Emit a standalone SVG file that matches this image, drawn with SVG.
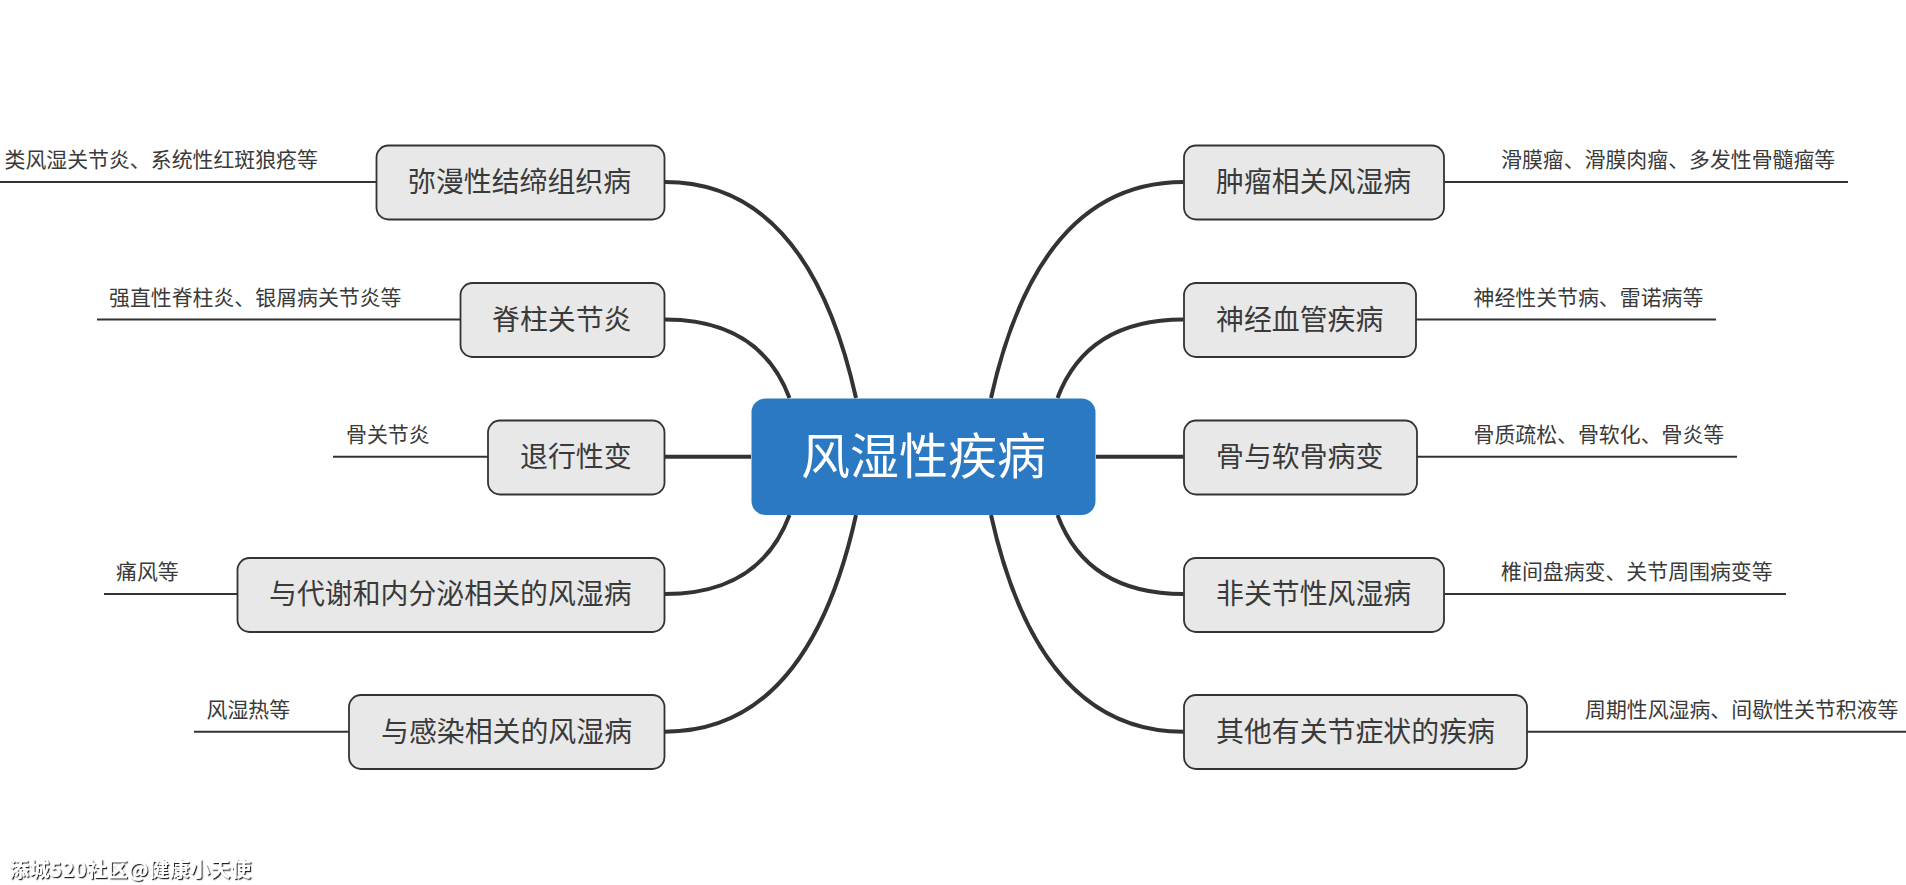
<svg xmlns="http://www.w3.org/2000/svg" width="1906" height="885" viewBox="0 0 1906 885">
<style>
text{font-family:"Noto Sans CJK SC","Microsoft YaHei",sans-serif}
.box{fill:#e8e8e8;stroke:#333;stroke-width:1.8}
.n{font-size:27.9px;fill:#3a3a3a}
.l{font-size:20.9px;fill:#3a3a3a}
.c{fill:none;stroke:#333;stroke-width:4}
.h{fill:none;stroke:#333;stroke-width:2}
</style>
<defs><filter id="sh" x="-5%" y="-20%" width="110%" height="140%"><feDropShadow dx="1.2" dy="1.2" stdDeviation="0.5" flood-color="#222"/></filter></defs>
<rect width="1906" height="885" fill="#fff"/>
<g id="connectors">
<path class="c" d="M665 182Q808 182 856 398"/>
<path class="c" d="M665 319.5Q760 319.5 789.5 398"/>
<path class="c" d="M665 456.7H751"/>
<path class="c" d="M665 594Q760 594 789.5 515"/>
<path class="c" d="M665 731.7Q808 731.7 856 515"/>
<path class="c" d="M1183.5 182Q1039 182 991 398"/>
<path class="c" d="M1183.5 319.5Q1087 319.5 1057.5 398"/>
<path class="c" d="M1096 456.7H1183.5"/>
<path class="c" d="M1183.5 594Q1087 594 1057.5 515"/>
<path class="c" d="M1183.5 731.7Q1039 731.7 991 515"/>
<path class="h" d="M0 182H376"/>
<path class="h" d="M97 319.5H460"/>
<path class="h" d="M333 456.7H488"/>
<path class="h" d="M104 594H237"/>
<path class="h" d="M194 731.7H349"/>
<path class="h" d="M1444 182H1848"/>
<path class="h" d="M1416 319.5H1716"/>
<path class="h" d="M1417 456.7H1737"/>
<path class="h" d="M1444 594H1786"/>
<path class="h" d="M1527 731.7H1906"/>
</g>
<g id="center"><rect x="751.5" y="398.5" width="344" height="116.5" rx="14" fill="#2b79c2"/><text x="923.5" y="474" text-anchor="middle" font-size="49" fill="#fff">风湿性疾病</text></g>
<g id="n1"><rect class="box" x="376.5" y="145.5" width="288" height="74" rx="12"/><text class="n" x="408" y="192">弥漫性结缔组织病</text></g>
<g id="n2"><rect class="box" x="460.5" y="283" width="204" height="74" rx="12"/><text class="n" x="492" y="329.5">脊柱关节炎</text></g>
<g id="n3"><rect class="box" x="488" y="420.5" width="176.5" height="74" rx="12"/><text class="n" x="520" y="466.7">退行性变</text></g>
<g id="n4"><rect class="box" x="237.5" y="558" width="427" height="74" rx="12"/><text class="n" x="269" y="604">与代谢和内分泌相关的风湿病</text></g>
<g id="n5"><rect class="box" x="349" y="695" width="315.5" height="74" rx="12"/><text class="n" x="381" y="741.7">与感染相关的风湿病</text></g>
<g id="n6"><rect class="box" x="1184" y="145.5" width="260" height="74" rx="12"/><text class="n" x="1216" y="192">肿瘤相关风湿病</text></g>
<g id="n7"><rect class="box" x="1184" y="283" width="232" height="74" rx="12"/><text class="n" x="1216" y="329.5">神经血管疾病</text></g>
<g id="n8"><rect class="box" x="1184" y="420.5" width="233" height="74" rx="12"/><text class="n" x="1216" y="466.7">骨与软骨病变</text></g>
<g id="n9"><rect class="box" x="1184" y="558" width="260" height="74" rx="12"/><text class="n" x="1216" y="604">非关节性风湿病</text></g>
<g id="n10"><rect class="box" x="1184" y="695" width="343" height="74" rx="12"/><text class="n" x="1216" y="741.7">其他有关节症状的疾病</text></g>
<g id="leaf1"><text class="l" x="4.5" y="167">类风湿关节炎、系统性红斑狼疮等</text></g>
<g id="leaf2"><text class="l" x="109" y="304.5">强直性脊柱炎、银屑病关节炎等</text></g>
<g id="leaf3"><text class="l" x="346" y="441.7">骨关节炎</text></g>
<g id="leaf4"><text class="l" x="116" y="579">痛风等</text></g>
<g id="leaf5"><text class="l" x="206.5" y="716.7">风湿热等</text></g>
<g id="leaf6"><text class="l" x="1501" y="167">滑膜瘤、滑膜肉瘤、多发性骨髓瘤等</text></g>
<g id="leaf7"><text class="l" x="1473.5" y="304.5">神经性关节病、雷诺病等</text></g>
<g id="leaf8"><text class="l" x="1473.5" y="441.7">骨质疏松、骨软化、骨炎等</text></g>
<g id="leaf9"><text class="l" x="1501" y="579">椎间盘病变、关节周围病变等</text></g>
<g id="leaf10"><text class="l" x="1585" y="716.7">周期性风湿病、间歇性关节积液等</text></g>
<text x="9" y="877" font-size="20" font-weight="700" fill="#fff" filter="url(#sh)" textLength="242">添城520社区@健康小天使</text>
</svg>
